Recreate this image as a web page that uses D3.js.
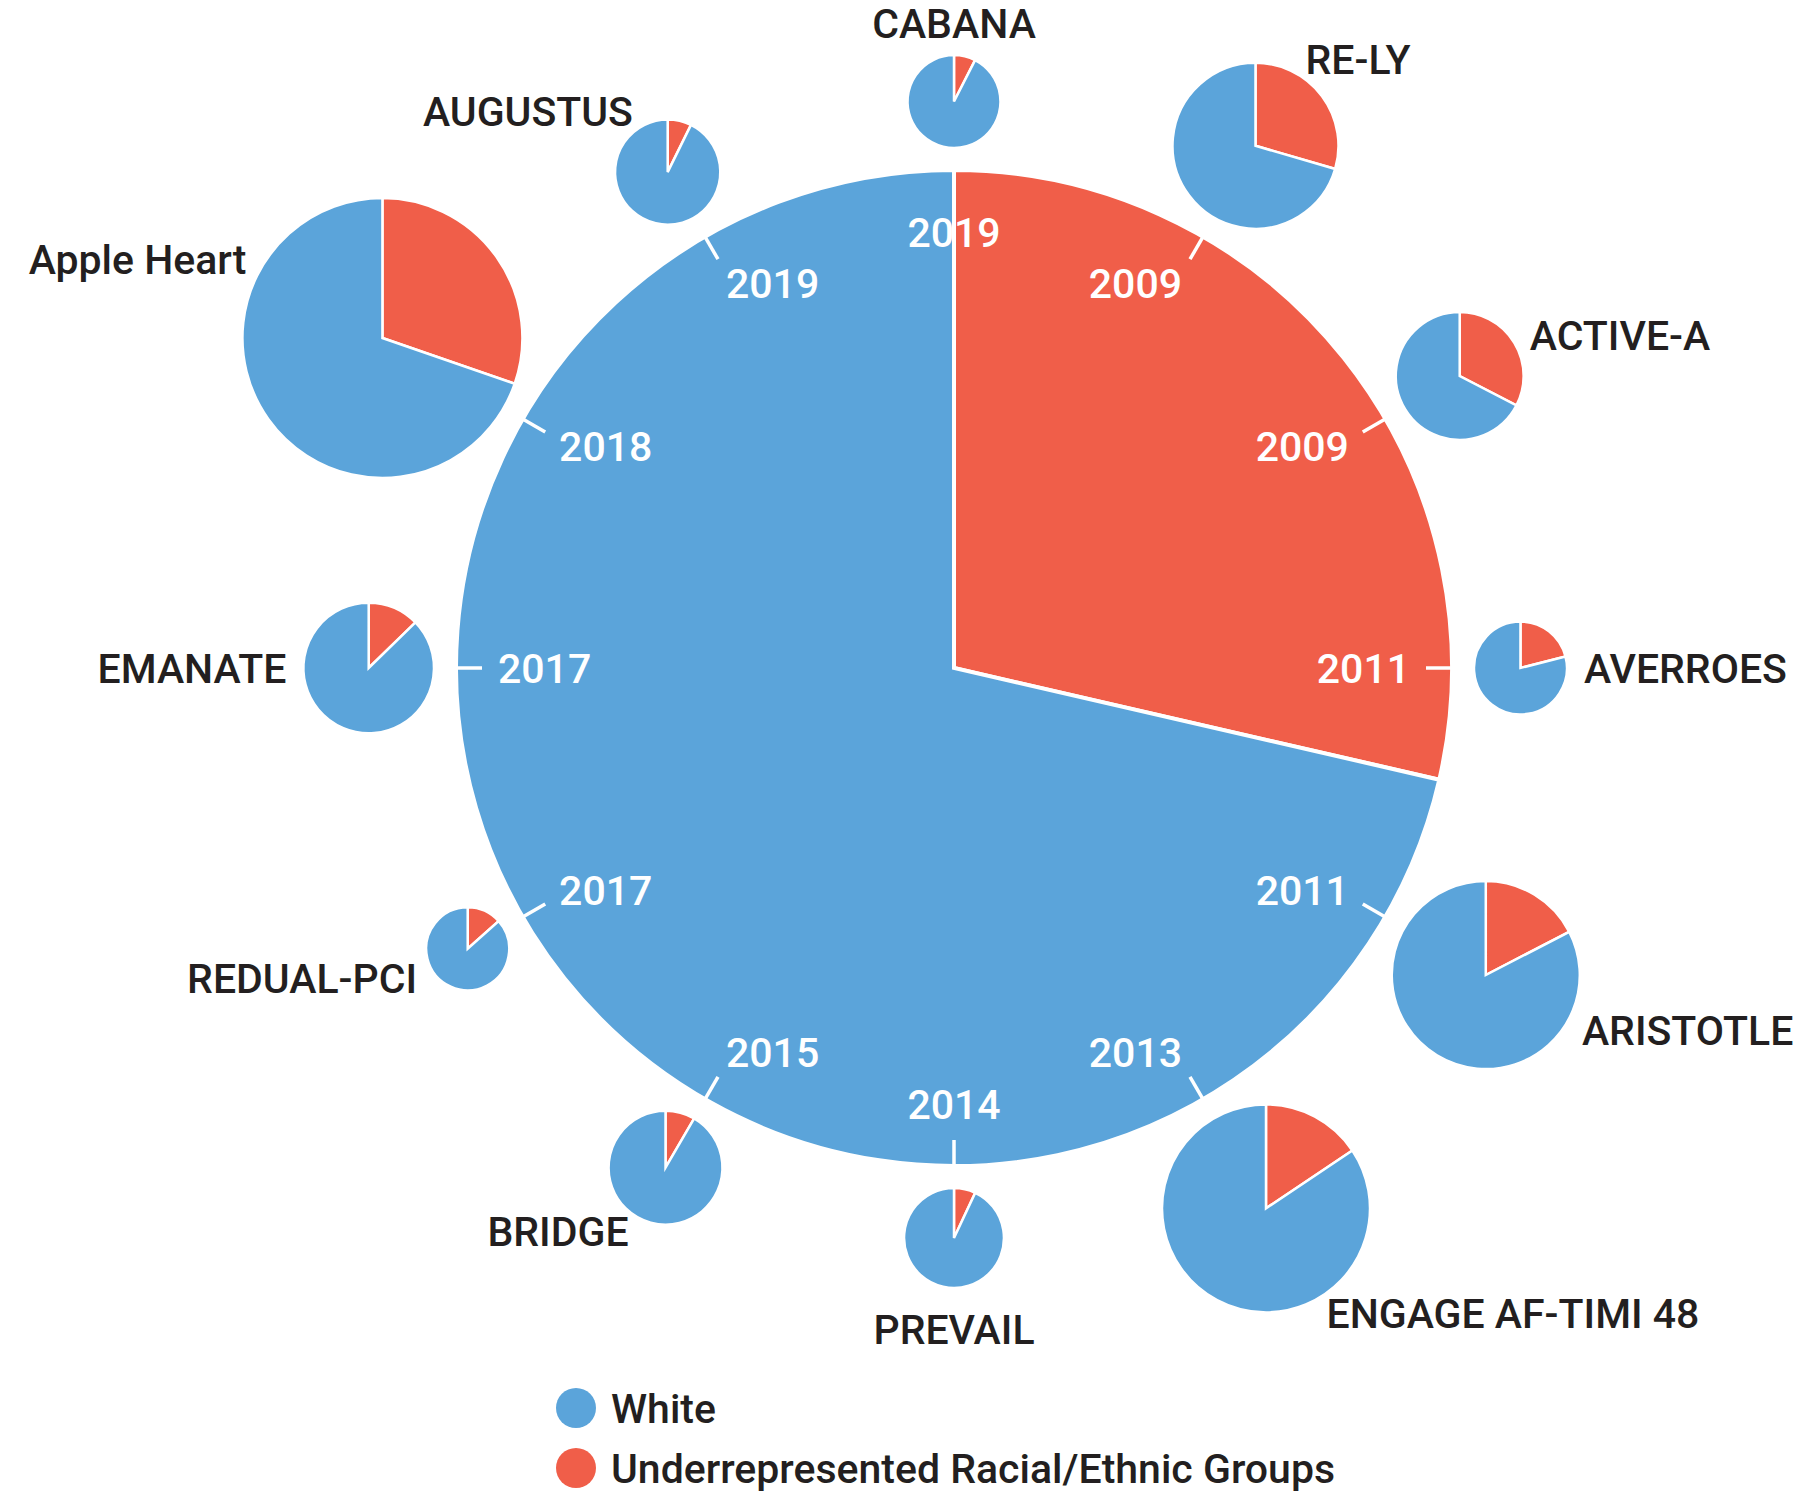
<!DOCTYPE html>
<html>
<head>
<meta charset="utf-8">
<title>Participants by race and ethnicity in AF trials</title>
<style>
body {
  margin: 0;
  background: #fff;
}
text {
  font-family: Roboto, "Liberation Sans", sans-serif;
}
</style>
</head>
<body>
<svg id="chart"></svg>
<script src="https://cdnjs.cloudflare.com/ajax/libs/d3/7.8.5/d3.min.js"></script>
<script>
// trials, clockwise from the top
var trials = ['CABANA', 'RE-LY', 'ACTIVE-A', 'AVERROES', 'ARISTOTLE', 'ENGAGE AF-TIMI 48',
              'PREVAIL', 'BRIDGE', 'REDUAL-PCI', 'EMANATE', 'Apple Heart', 'AUGUSTUS'];
var years = [2019, 2009, 2009, 2011, 2011, 2013, 2014, 2015, 2017, 2017, 2018, 2019];
// % of participants from underrepresented racial/ethnic groups
var underrepPct = [7.5, 29.5, 32.6, 21.0, 17.4, 15.6, 7.0, 8.4, 13.4, 12.7, 30.3, 7.3];
// relative size of each trial (area of its pie)
var trialSize = [10.7, 34.8, 20.5, 10.7, 44.8, 54.9, 12.4, 16.2, 8.5, 21.4, 100, 13.8];
var overallUnderrepPct = 28.6;
var groups = ['White', 'Underrepresented Racial/Ethnic Groups'];

var width = 1800, height = 1502;
var cx = 954, cy = 668, R = 496;
var gap = 25;
var capH = 29;

var svg = d3.select('#chart')
  .attr('width', width)
  .attr('height', height);

var color = d3.scaleOrdinal()
  .domain(groups)
  .range(['#5ba4da', '#f05e49']);

var angle = d3.scaleLinear()
  .domain([0, trials.length])
  .range([0, 2 * Math.PI]);

var size = d3.scaleSqrt()
  .domain([0, d3.max(trialSize)])
  .range([0, 139]);

var pie = d3.pie()
  .sort(null)
  .value(function(d) { return d.value; });

function slices(pct) {
  return pie([{group: groups[1], value: pct}, {group: groups[0], value: 100 - pct}]);
}

function polar(a, r) {
  return [Math.sin(a) * r, -Math.cos(a) * r];
}

function anchorFor(a) {
  var s = Math.sin(a);
  if (s > 0.2) return 'end';
  if (s < -0.2) return 'start';
  return 'middle';
}

// big pie: all trials together
var main = svg.append('g')
  .attr('transform', 'translate(' + cx + ',' + cy + ')');

main.selectAll('path')
  .data(slices(overallUnderrepPct))
  .enter()
  .append('path')
  .attr('d', d3.arc().innerRadius(0).outerRadius(R + 2))
  .attr('fill', function(d) { return color(d.data.group); })
  .attr('stroke', '#fff')
  .attr('stroke-width', 4);

var data = trials.map(function(t, i) {
  return {name: t, year: years[i], pct: underrepPct[i], size: trialSize[i], a: angle(i)};
});

// ticks
main.selectAll('line.tick')
  .data(data)
  .enter()
  .append('line')
  .attr('class', 'tick')
  .attr('x1', function(d) { return polar(d.a, R + 1)[0]; })
  .attr('y1', function(d) { return polar(d.a, R + 1)[1]; })
  .attr('x2', function(d) { return polar(d.a, R - 24)[0]; })
  .attr('y2', function(d) { return polar(d.a, R - 24)[1]; })
  .attr('stroke', '#fff')
  .attr('stroke-width', 3.5);

// years inside the big pie
main.selectAll('text.year')
  .data(data)
  .enter()
  .append('text')
  .attr('class', 'year')
  .attr('x', function(d) { return polar(d.a, R - 40)[0]; })
  .attr('y', function(d) {
    var p = polar(d.a, R - 40);
    var k = Math.abs(Math.sin(d.a)) < 0.2 ? 20 : 12;
    return p[1] + Math.cos(d.a) * k + capH / 2;
  })
  .attr('text-anchor', function(d) { return anchorFor(d.a); })
  .attr('fill', '#fff')
  .attr('font-size', 41)
  .attr('font-weight', 500)
  .text(function(d) { return d.year; });

// small pies
var small = svg.selectAll('g.trial')
  .data(data)
  .enter()
  .append('g')
  .attr('class', 'trial')
  .attr('transform', function(d) {
    var p = polar(d.a, R + gap + size(d.size));
    return 'translate(' + (cx + p[0]) + ',' + (cy + p[1]) + ')';
  });

small.each(function(d) {
  var g = d3.select(this);
  var r = size(d.size);
  g.selectAll('path')
    .data(slices(d.pct))
    .enter()
    .append('path')
    .attr('d', d3.arc().innerRadius(0).outerRadius(r + 1))
    .attr('fill', function(s) { return color(s.data.group); })
    .attr('stroke', '#fff')
    .attr('stroke-width', 2.5);

  var vertical = Math.abs(Math.sin(d.a)) < 0.2;
  var p = polar(d.a, r + (vertical ? 12 : 18));
  var y = p[1];
  if (vertical) y = p[1] - Math.cos(d.a) * 25.6 + 5;
  var anc = anchorFor(d.a);
  g.append('text')
    .attr('x', p[0])
    .attr('y', y + capH / 2)
    .attr('text-anchor', anc === 'end' ? 'start' : anc === 'start' ? 'end' : 'middle')
    .attr('fill', '#231f20')
    .attr('font-size', 41)
    .attr('font-weight', 500)
    .text(d.name);
});

// legend
var legend = svg.append('g')
  .attr('transform', 'translate(576, 1408)');

var item = legend.selectAll('g')
  .data(groups)
  .enter()
  .append('g')
  .attr('transform', function(d, i) { return 'translate(0,' + i * 60 + ')'; });

item.append('circle')
  .attr('r', 20)
  .attr('fill', function(d) { return color(d); });

item.append('text')
  .attr('x', 35)
  .attr('y', capH / 2)
  .attr('fill', '#231f20')
  .attr('font-size', 41)
  .attr('font-weight', 500)
  .text(function(d) { return d; });
</script>
</body>
</html>
